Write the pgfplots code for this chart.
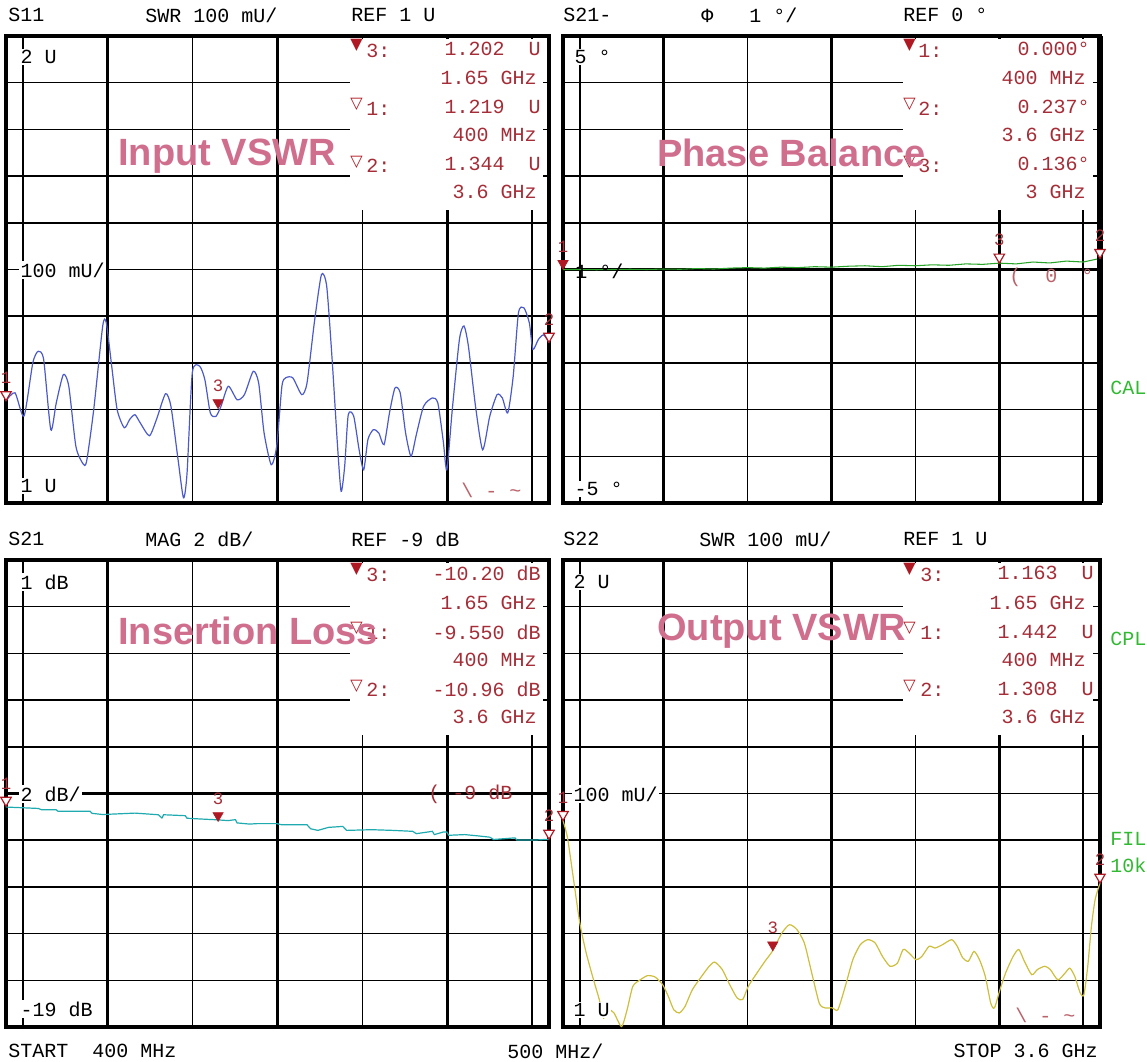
\documentclass[border=0pt]{standalone}
\usepackage{pgfplots}
\pgfplotsset{compat=1.18}
\usepackage{fontspec}
\setmainfont{Liberation Sans}
\newfontfamily\monofont{Liberation Mono}
\newfontfamily\symfont{DejaVu Sans}

\definecolor{sblue}{RGB}{75,90,200}
\definecolor{sgreen}{RGB}{40,165,40}
\definecolor{scyan}{RGB}{30,170,175}
\definecolor{syellow}{RGB}{205,190,60}
\definecolor{mkred}{RGB}{175,25,35}
\definecolor{txred}{RGB}{165,45,55}
\definecolor{pinkt}{RGB}{208,110,142}
\definecolor{calgr}{RGB}{50,185,50}

\tikzset{
  mono/.style={font=\monofont\fontsize{15}{15}\selectfont, inner sep=0pt, anchor=west},
  lbl/.style={mono, fill=white, inner sep=1pt},
  rmono/.style={mono, text=txred},
  rval/.style={mono, text=txred, anchor=east},
  sym/.style={font=\symfont\fontsize{12}{12}\selectfont, text=mkred, inner sep=0pt, anchor=west},
  ttl/.style={font=\bfseries\fontsize{28.5}{28.5}\selectfont, text=pinkt, inner sep=0pt, anchor=base west},
  grn/.style={mono, text=calgr},
  odd/.style={mono, text=txred!75},
}

\pgfplotsset{
  vna/.style={
    anchor=north west, scale only axis,
    height=350.25pt,
    xmin=0.4, xmax=3.6,
    xtick={0.5,1.5,2.5,3.5},
    extra x ticks={1,2,3}, extra x tick labels={},
    extra x tick style={grid style={black, line width=2.1pt}},
    xticklabels={}, yticklabels={},
    major tick length=0pt,
    grid=major, grid style={black, line width=1.1pt},
    axis line style={black, line width=2.3pt},
    clip=false,
  },
  trace/.style={line width=0.9pt, no marks},
  mk/.style={only marks, mark=triangle*, mark size=4.5pt,
    mark options={yshift=4.5pt, rotate=180, draw=mkred, fill=mkred},
    point meta=explicit symbolic, nodes near coords,
    every node near coord/.append style={anchor=south, yshift=8pt, inner sep=0pt,
      text=txred, font=\monofont\fontsize{13}{13}\selectfont}},
  mko/.style={mk, mark options={yshift=4.5pt, rotate=180, draw=mkred, fill=white, line width=0.9pt}},
}

\begin{document}
\begin{tikzpicture}
\useasboundingbox (0,0) rectangle (860.25pt,-796.5pt);

% S11 input VSWR
\begin{axis}[vna, at={(4.5pt,-27pt)}, width=407.25pt,
  ymin=1, ymax=2, ytick={1.1,1.2,1.3,1.4,1.5,1.6,1.7,1.8,1.9}]
\addplot[trace, sblue, smooth, tension=0.4] coordinates {
(0.400,1.219)(0.453,1.236)(0.506,1.186)(0.558,1.300)(0.590,1.325)(0.622,1.307)
(0.664,1.157)(0.696,1.214)(0.738,1.275)(0.770,1.250)(0.812,1.121)(0.854,1.084)
(0.875,1.089)(0.917,1.200)(0.970,1.379)(0.991,1.386)(1.023,1.293)(1.055,1.200)
(1.097,1.161)(1.129,1.179)(1.160,1.189)(1.192,1.171)(1.245,1.144)(1.287,1.179)
(1.340,1.234)(1.372,1.207)(1.414,1.093)(1.446,1.011)(1.467,1.064)(1.498,1.279)
(1.541,1.293)(1.572,1.264)(1.604,1.193)(1.636,1.185)(1.667,1.207)(1.710,1.250)
(1.762,1.221)(1.805,1.232)(1.857,1.282)(1.889,1.257)(1.921,1.150)(1.963,1.082)
(1.995,1.121)(2.026,1.250)(2.048,1.268)(2.090,1.268)(2.143,1.232)(2.174,1.257)
(2.217,1.386)(2.259,1.489)(2.290,1.464)(2.322,1.307)(2.354,1.121)(2.375,1.025)
(2.396,1.079)(2.417,1.189)(2.449,1.186)(2.481,1.114)(2.508,1.071)(2.533,1.136)
(2.565,1.157)(2.597,1.150)(2.628,1.125)(2.660,1.193)(2.692,1.246)(2.723,1.236)
(2.755,1.150)(2.787,1.100)(2.818,1.146)(2.861,1.207)(2.913,1.225)(2.945,1.214)
(2.977,1.132)(2.998,1.071)(3.030,1.200)(3.072,1.350)(3.099,1.379)(3.125,1.336)
(3.167,1.207)(3.209,1.114)(3.251,1.186)(3.294,1.232)(3.325,1.225)(3.357,1.193)
(3.389,1.271)(3.420,1.407)(3.452,1.418)(3.484,1.386)(3.505,1.329)(3.537,1.350)
(3.568,1.360)(3.600,1.344)};
\addplot[mk] coordinates {(1.65,1.202) [3]};
\addplot[mko] coordinates {(0.4,1.219) [1] (3.6,1.344) [2]};
\end{axis}

% S21 phase balance
\begin{axis}[vna, at={(422.25pt,-27pt)}, width=402.75pt,
  ymin=-5, ymax=5, ytick={-4,-3,-2,-1,1,2,3,4},
  extra y ticks={0}, extra y tick labels={},
  extra y tick style={grid style={black, line width=2.3pt}}]
\addplot[trace, sgreen, line width=0.8pt] coordinates {
(0.40,0.000)(0.50,0.000)(0.60,-0.005)(0.70,0.000)(0.80,0.005)(0.90,0.000)
(1.00,0.010)(1.10,0.005)(1.20,0.020)(1.30,0.010)(1.40,0.030)(1.50,0.040)
(1.60,0.030)(1.70,0.050)(1.80,0.040)(1.90,0.060)(2.00,0.050)(2.10,0.070)
(2.20,0.080)(2.30,0.060)(2.40,0.090)(2.50,0.080)(2.60,0.100)(2.70,0.090)
(2.80,0.120)(2.90,0.110)(3.00,0.136)(3.10,0.120)(3.20,0.160)(3.30,0.140)
(3.40,0.180)(3.50,0.160)(3.60,0.237)};
\addplot[mk] coordinates {(0.4,0.0) [1]};
\addplot[mko] coordinates {(3.0,0.136) [3] (3.6,0.237) [2]};
\draw[black, line width=5pt] (rel axis cs:1,0) -- (rel axis cs:1,1);
\end{axis}

% S21 insertion loss
\begin{axis}[vna, at={(4.5pt,-420pt)}, width=407.25pt,
  ymin=-19, ymax=1, ytick={-17,-15,-13,-11,-7,-5,-3,-1},
  extra y ticks={-9}, extra y tick labels={},
  extra y tick style={grid style={black, line width=2.3pt}}]
\addplot[trace, scyan] coordinates {
(0.400,-9.58)(0.590,-9.64)(0.611,-9.70)(0.696,-9.70)(0.706,-9.76)(0.896,-9.76)
(0.907,-9.85)(0.970,-9.90)(1.160,-9.84)(1.298,-9.91)(1.319,-10.05)(1.329,-9.91)
(1.456,-9.95)(1.467,-10.06)(1.541,-10.09)(1.625,-10.12)(1.710,-10.16)(1.752,-10.12)
(1.762,-10.26)(1.836,-10.31)(1.879,-10.29)(1.995,-10.29)(2.026,-10.34)(2.174,-10.34)
(2.195,-10.51)(2.238,-10.58)(2.301,-10.45)(2.385,-10.41)(2.407,-10.58)(2.554,-10.55)
(2.681,-10.58)(2.797,-10.62)(2.818,-10.72)(2.913,-10.62)(2.924,-10.76)(2.977,-10.65)
(2.998,-10.65)(3.009,-10.79)(3.104,-10.76)(3.188,-10.82)(3.251,-10.87)(3.273,-10.97)
(3.399,-10.90)(3.410,-10.99)(3.526,-10.99)(3.600,-10.96)};
\addplot[mk] coordinates {(1.65,-10.20) [3]};
\addplot[mko] coordinates {(0.4,-9.55) [1] (3.6,-10.96) [2]};
\end{axis}

% S22 output VSWR
\begin{axis}[vna, at={(422.25pt,-420pt)}, width=402.75pt,
  ymin=1, ymax=2, ytick={1.1,1.2,1.3,1.4,1.5,1.6,1.7,1.8,1.9}]
\addplot[trace, syellow, smooth, tension=0.4] coordinates {
(0.400,1.442)(0.427,1.405)(0.460,1.323)(0.500,1.223)(0.538,1.159)(0.582,1.101)
(0.616,1.059)(0.642,1.019)(0.671,1.037)(0.704,1.030)(0.749,1.001)(0.782,1.037)
(0.816,1.087)(0.860,1.101)(0.904,1.110)(0.949,1.107)(0.993,1.091)(1.027,1.066)
(1.060,1.037)(1.093,1.030)(1.127,1.044)(1.171,1.080)(1.227,1.109)(1.271,1.130)
(1.304,1.139)(1.349,1.123)(1.393,1.091)(1.438,1.062)(1.471,1.059)(1.504,1.087)
(1.549,1.112)(1.604,1.141)(1.649,1.163)(1.704,1.201)(1.749,1.219)(1.793,1.209)
(1.838,1.180)(1.882,1.116)(1.927,1.051)(1.960,1.041)(2.004,1.041)(2.038,1.037)
(2.082,1.087)(2.127,1.144)(2.171,1.176)(2.216,1.187)(2.260,1.180)(2.304,1.151)
(2.349,1.130)(2.393,1.137)(2.427,1.166)(2.460,1.159)(2.504,1.144)(2.538,1.151)
(2.582,1.173)(2.616,1.169)(2.660,1.176)(2.716,1.187)(2.749,1.173)(2.782,1.148)
(2.816,1.141)(2.849,1.162)(2.882,1.144)(2.916,1.109)(2.949,1.051)(2.971,1.041)
(3.004,1.080)(3.038,1.116)(3.082,1.151)(3.116,1.166)(3.149,1.141)(3.193,1.112)
(3.227,1.123)(3.271,1.130)(3.304,1.123)(3.349,1.101)(3.393,1.116)(3.420,1.126)
(3.449,1.109)(3.482,1.073)(3.504,1.069)(3.527,1.130)(3.549,1.216)(3.571,1.273)
(3.600,1.308)};
\addplot[mk] coordinates {(1.65,1.163) [3]};
\addplot[mko] coordinates {(0.4,1.442) [1] (3.6,1.308) [2]};
\end{axis}

\begin{scope}[x=0.75pt, y=-0.75pt]
% marker boxes
\fill[white] (350,39) rectangle (543,210);
\fill[white] (903,39) rectangle (1093,210);
\fill[white] (350,563) rectangle (543,735);
\fill[white] (903,563) rectangle (1093,735);

% headers
\node[mono] at (8,15) {S11};
\node[mono] at (145,15) {SWR 100 mU/};
\node[mono] at (351,15) {REF 1 U};
\node[mono] at (563,15) {S21-};
\node[mono] at (701,15) {Φ\ \ \ 1 °/};
\node[mono] at (903,15) {REF 0 °};
\node[mono] at (8,539) {S21};
\node[mono] at (145,539) {MAG 2 dB/};
\node[mono] at (351,539) {REF -9 dB};
\node[mono] at (563,539) {S22};
\node[mono] at (699,539) {SWR 100 mU/};
\node[mono] at (903,539) {REF 1 U};
\node[mono] at (8,1051) {START\ \ 400 MHz};
\node[mono] at (507,1051) {500 MHz/};
\node[mono, anchor=east] at (1098,1051) {STOP 3.6 GHz};

% scale labels
\node[lbl] at (19,57) {2 U};
\node[lbl] at (19,270) {100 mU/};
\node[lbl] at (19,486) {1 U};
\node[lbl] at (573,57) {5 °};
\node[mono] at (575,271) {1 °/};
\node[lbl] at (573,489) {-5 °};
\node[lbl] at (19,582) {1 dB};
\node[lbl] at (19,794) {2 dB/};
\node[lbl] at (19,1009) {-19 dB};
\node[lbl] at (572,582) {2 U};
\node[lbl] at (572,794) {100 mU/};
\node[lbl] at (572,1010) {1 U};

% marker tables
\node[sym] at (350,45) {▼}; \node[rmono] at (366,51) {3:};
\node[rval] at (541,49) {1.202\ \ U};
\node[rval] at (537,78) {1.65 GHz};
\node[sym] at (350,104) {▽}; \node[rmono] at (366,109) {1:};
\node[rval] at (541,107) {1.219\ \ U};
\node[rval] at (537,135) {400 MHz};
\node[sym] at (350,162) {▽}; \node[rmono] at (366,166) {2:};
\node[rval] at (541,164) {1.344\ \ U};
\node[rval] at (537,192) {3.6 GHz};

\node[sym] at (903,45) {▼}; \node[rmono] at (918,51) {1:};
\node[rval] at (1090,49) {0.000°};
\node[rval] at (1086,78) {400 MHz};
\node[sym] at (903,104) {▽}; \node[rmono] at (918,109) {2:};
\node[rval] at (1090,107) {0.237°};
\node[rval] at (1086,135) {3.6 GHz};
\node[sym] at (903,162) {▽}; \node[rmono] at (918,166) {3:};
\node[rval] at (1090,164) {0.136°};
\node[rval] at (1086,192) {3 GHz};

\node[sym] at (350,569) {▼}; \node[rmono] at (366,575) {3:};
\node[rval] at (541,573) {-10.20 dB};
\node[rval] at (537,603) {1.65 GHz};
\node[sym] at (350,628) {▽}; \node[rmono] at (366,633) {1:};
\node[rval] at (541,632) {-9.550 dB};
\node[rval] at (537,660) {400 MHz};
\node[sym] at (350,686) {▽}; \node[rmono] at (366,690) {2:};
\node[rval] at (541,689) {-10.96 dB};
\node[rval] at (537,717) {3.6 GHz};

\node[sym] at (903,569) {▼}; \node[rmono] at (920,575) {3:};
\node[rval] at (1094,573) {1.163\ \ U};
\node[rval] at (1086,603) {1.65 GHz};
\node[sym] at (903,628) {▽}; \node[rmono] at (920,633) {1:};
\node[rval] at (1094,632) {1.442\ \ U};
\node[rval] at (1086,660) {400 MHz};
\node[sym] at (903,686) {▽}; \node[rmono] at (920,690) {2:};
\node[rval] at (1094,689) {1.308\ \ U};
\node[rval] at (1086,717) {3.6 GHz};

% limit glyphs
\node[odd] at (461,490) {\textbackslash{} - \string~};
\node[odd] at (1009,277) {(\ \ 0\ \ °};
\node[rmono] at (428,794) {( -9 dB};
\node[odd] at (1015,1015) {\textbackslash{} - \string~};

% side annotations
\node[grn] at (1110,388) {CAL};
\node[grn] at (1110,639) {CPL};
\node[grn] at (1110,839) {FIL};
\node[grn] at (1110,865) {10k};

% titles
\node[ttl] at (118,166) {Input VSWR};
\node[ttl] at (657,167) {Phase Balance};
\node[ttl] at (118,644) {Insertion Loss};
\node[ttl] at (657,641) {Output VSWR};
\end{scope}
\end{tikzpicture}
\end{document}
